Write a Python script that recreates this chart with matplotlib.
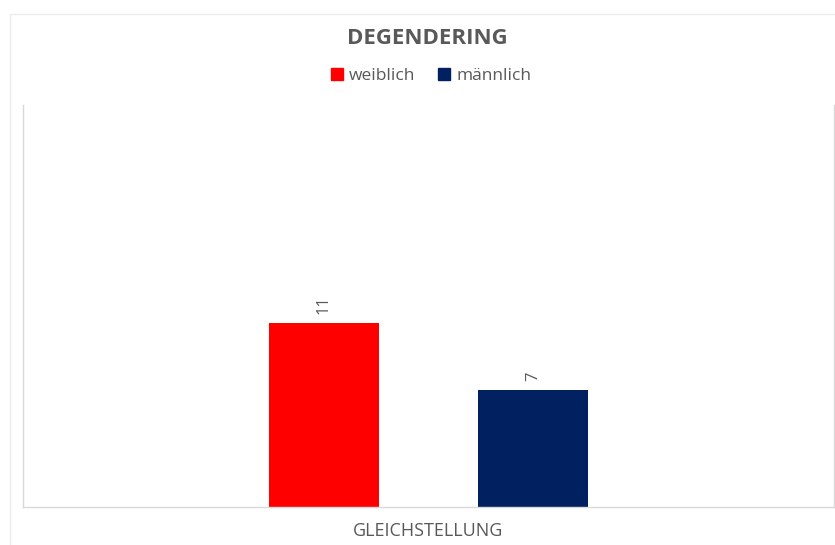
import matplotlib
matplotlib.use("Agg")
import matplotlib.pyplot as plt
from matplotlib.patches import Rectangle, Patch

categories = ["GLEICHSTELLUNG"]
series = ["weiblich", "männlich"]
values = [11, 7]
colors = ["#FF0000", "#002060"]

W, H = 835, 545
plt.rcParams['font.family'] = ['Open Sans', 'DejaVu Sans']
grey = "#595959"
line = "#d9d9d9"

fig = plt.figure(figsize=(W / 100, H / 100), dpi=100)

# chart frame, runs off the right and bottom edges
fig.add_artist(Rectangle((10 / W, -0.1), 1.0, 1 - 14 / H + 0.1,
                         transform=fig.transFigure, fill=False,
                         edgecolor="#ebebeb", lw=1))

ax = fig.add_axes([23 / W, (H - 507) / H, (834 - 23) / W, (507 - 105) / H])
ax.set_xlim(-0.5, 0.5)
ax.set_ylim(0, 24)

width = 0.136
offsets = [-0.129, 0.129]
for name, v, c, off in zip(series, values, colors, offsets):
    ax.bar(off, v, width=width, color=c, label=name)
    ax.annotate(str(v), (off, v), xytext=(0, 6), textcoords="offset points",
                rotation=90, ha="center", va="bottom", fontsize=12, color=grey)

for s in ["left", "right", "bottom"]:
    ax.spines[s].set_color(line)
    ax.spines[s].set_linewidth(1)
ax.spines["top"].set_visible(False)
ax.set_xticks([])
ax.set_yticks([])

fig.text(427.5 / W, 1 - 38 / H, "DEGENDERING", ha="center", va="center",
         fontsize=16, fontweight="bold", color=grey)
fig.text(428 / W, 1 - 531 / H, categories[0], ha="center", va="center",
         fontsize=13, color=grey)

handles = [Patch(color=c, label=n) for n, c in zip(series, colors)]
fig.legend(handles=handles, loc="center", bbox_to_anchor=(431 / W, 1 - 76 / H),
           ncol=2, frameon=False, fontsize=12.5, handlelength=0.7,
           handleheight=0.7, handletextpad=0.35, columnspacing=1.3,
           labelcolor=grey)

fig.savefig("out.png", dpi=100, facecolor="white")
